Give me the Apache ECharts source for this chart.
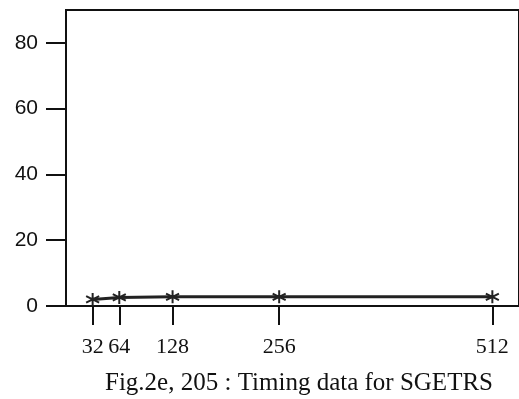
<!DOCTYPE html>
<html>
<head>
<meta charset="utf-8">
<script src="https://cdn.jsdelivr.net/npm/echarts@6/dist/echarts.min.js"></script>
<style>
  html, body { margin: 0; padding: 0; background: #fff; }
  #chart { width: 519px; height: 399px; }
</style>
</head>
<body>
<div id="chart"></div>
<script>
// matrix sizes and timings
const sizes = [32, 64, 128, 256, 512];
const timings = [2.0, 2.6, 2.8, 2.8, 2.8];
const yTicks = [0, 20, 40, 60, 80];
const caption = 'Fig.2e, 205 : Timing data for SGETRS';

// asterisk marker drawn as strokes
const star = 'path://M5,0L5,10M0.67,2.5L9.33,7.5M0.67,7.5L9.33,2.5';

const chart = echarts.init(document.getElementById('chart'), null, { renderer: 'canvas' });

chart.setOption({
    animation: false,
    backgroundColor: '#fff',
    title: {
        text: caption,
        left: 294,
        top: 366,
        textAlign: 'center',
        textStyle: { fontFamily: 'Liberation Serif', fontSize: 25, fontWeight: 'normal', color: '#111' }
    },
    grid: {
        left: 66, top: 10, right: -2, bottom: 93,
        show: true, borderColor: '#111', borderWidth: 2
    },
    xAxis: {
        type: 'value',
        min: 0,
        max: 544,
        splitLine: { show: false },
        axisLine: { lineStyle: { color: '#111', width: 2 } },
        axisTick: { customValues: sizes, length: 19, lineStyle: { color: '#111', width: 2 } },
        axisLabel: {
            customValues: sizes,
            margin: 30,
            fontFamily: 'Liberation Serif',
            fontSize: 22,
            color: '#111'
        }
    },
    yAxis: {
        type: 'value',
        min: 0,
        max: 90,
        splitLine: { show: false },
        axisLine: { lineStyle: { color: '#111', width: 2 } },
        axisTick: { customValues: yTicks, length: 20, lineStyle: { color: '#111', width: 2 } },
        axisLabel: {
            customValues: yTicks,
            margin: 28,
            fontFamily: 'Liberation Sans',
            fontSize: 21,
            color: '#111'
        }
    },
    series: [{
        type: 'line',
        data: sizes.map((s, i) => [s, timings[i]]),
        symbol: star,
        symbolSize: 13,
        lineStyle: { color: '#222', width: 3 },
        itemStyle: { color: '#222', borderColor: '#222', borderWidth: 2 }
    }]
});
</script>
</body>
</html>
